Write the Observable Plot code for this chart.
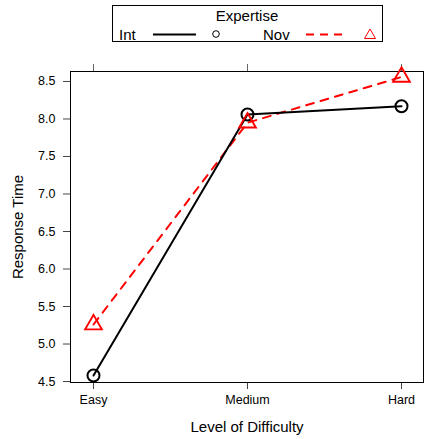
<!DOCTYPE html>
<html>
<head>
<meta charset="utf-8">
<script src="https://cdn.jsdelivr.net/npm/d3@7"></script>
<script src="https://cdn.jsdelivr.net/npm/@observablehq/plot@0.6"></script>
<style>
  body { margin: 0; background: white; }
  #wrap { position: relative; width: 424px; height: 439px; font-family: "Liberation Sans", Arial, sans-serif; }
  #legend { position: absolute; left: 0; top: 0; }
</style>
</head>
<body>
<div id="wrap"></div>
<script>
const categories = ["Easy", "Medium", "Hard"];
const intValues = [4.58, 8.06, 8.17];
const novValues = [5.26, 7.95, 8.56];
const yTicks = [4.5, 5.0, 5.5, 6.0, 6.5, 7.0, 7.5, 8.0, 8.5];
const seriesNames = ["Int", "Nov"];
const legendTitle = "Expertise";
const xLabel = "Level of Difficulty";
const yLabel = "Response Time";

const intData = categories.map((c, i) => ({level: c, value: intValues[i], group: "Int"}));
const novData = categories.map((c, i) => ({level: c, value: novValues[i], group: "Nov"}));

const chart = Plot.plot({
  width: 424,
  height: 439,
  marginLeft: 70,
  marginRight: 1,
  marginTop: 71,
  marginBottom: 57,
  style: {fontFamily: "'Liberation Sans', Arial, sans-serif", fontSize: "12.5px", color: "black", background: "white"},
  x: {type: "point", domain: categories, padding: 0.139},
  y: {domain: [4.487, 8.633]},
  marks: [
    Plot.axisX({anchor: "bottom", tickSize: 7, tickPadding: 6, label: null, stroke: "#444"}),
    Plot.axisX({anchor: "top", tickSize: 8, tickFormat: () => "", label: null, stroke: "#666"}),
    Plot.axisY({anchor: "left", ticks: yTicks, tickSize: 7, tickPadding: 8, tickFormat: ".1f", label: null, stroke: "#444"}),
    Plot.frame({stroke: "black"}),
    Plot.text([xLabel], {frameAnchor: "bottom", dy: 45, textAnchor: "middle", lineAnchor: "middle", fontSize: 15, text: d => d}),
    Plot.text([yLabel], {frameAnchor: "left", dx: -52, rotate: -90, textAnchor: "middle", lineAnchor: "middle", fontSize: 15, text: d => d}),
    Plot.line(novData, {x: "level", y: "value", stroke: "red", strokeWidth: 2, strokeDasharray: "8,7"}),
    Plot.line(intData, {x: "level", y: "value", stroke: "black", strokeWidth: 2}),
    Plot.dot(intData, {x: "level", y: "value", symbol: "circle", r: 6, stroke: "black", strokeWidth: 2, fill: "none"}),
    Plot.dot(novData, {x: "level", y: "value", symbol: "triangle", r: 6.2, stroke: "red", strokeWidth: 1.9, fill: "none"})
  ]
});
document.getElementById("wrap").appendChild(chart);

// legend
const svg = d3.select("#wrap").append("svg")
  .attr("id", "legend").attr("width", 424).attr("height", 50)
  .style("font-family", "'Liberation Sans', Arial, sans-serif");
svg.append("rect").attr("x", 112.5).attr("y", 5.5).attr("width", 270).attr("height", 36)
  .attr("fill", "white").attr("stroke", "black");
svg.append("text").attr("x", 247).attr("y", 21).attr("text-anchor", "middle")
  .attr("font-size", 15).text(legendTitle);
svg.append("text").attr("x", 119).attr("y", 40).attr("font-size", 15).text(seriesNames[0]);
svg.append("line").attr("x1", 153).attr("x2", 196).attr("y1", 34.5).attr("y2", 34.5)
  .attr("stroke", "black").attr("stroke-width", 2);
svg.append("circle").attr("cx", 216).attr("cy", 34).attr("r", 3.3)
  .attr("fill", "none").attr("stroke", "black").attr("stroke-width", 1);
svg.append("text").attr("x", 263).attr("y", 40).attr("font-size", 15).text(seriesNames[1]);
svg.append("line").attr("x1", 306).attr("x2", 343).attr("y1", 34.5).attr("y2", 34.5)
  .attr("stroke", "red").attr("stroke-width", 2).attr("stroke-dasharray", "8,6");
svg.append("path").attr("d", "M370,29 L375.5,38.5 L364.5,38.5 Z")
  .attr("fill", "none").attr("stroke", "red").attr("stroke-width", 1);
</script>
</body>
</html>
